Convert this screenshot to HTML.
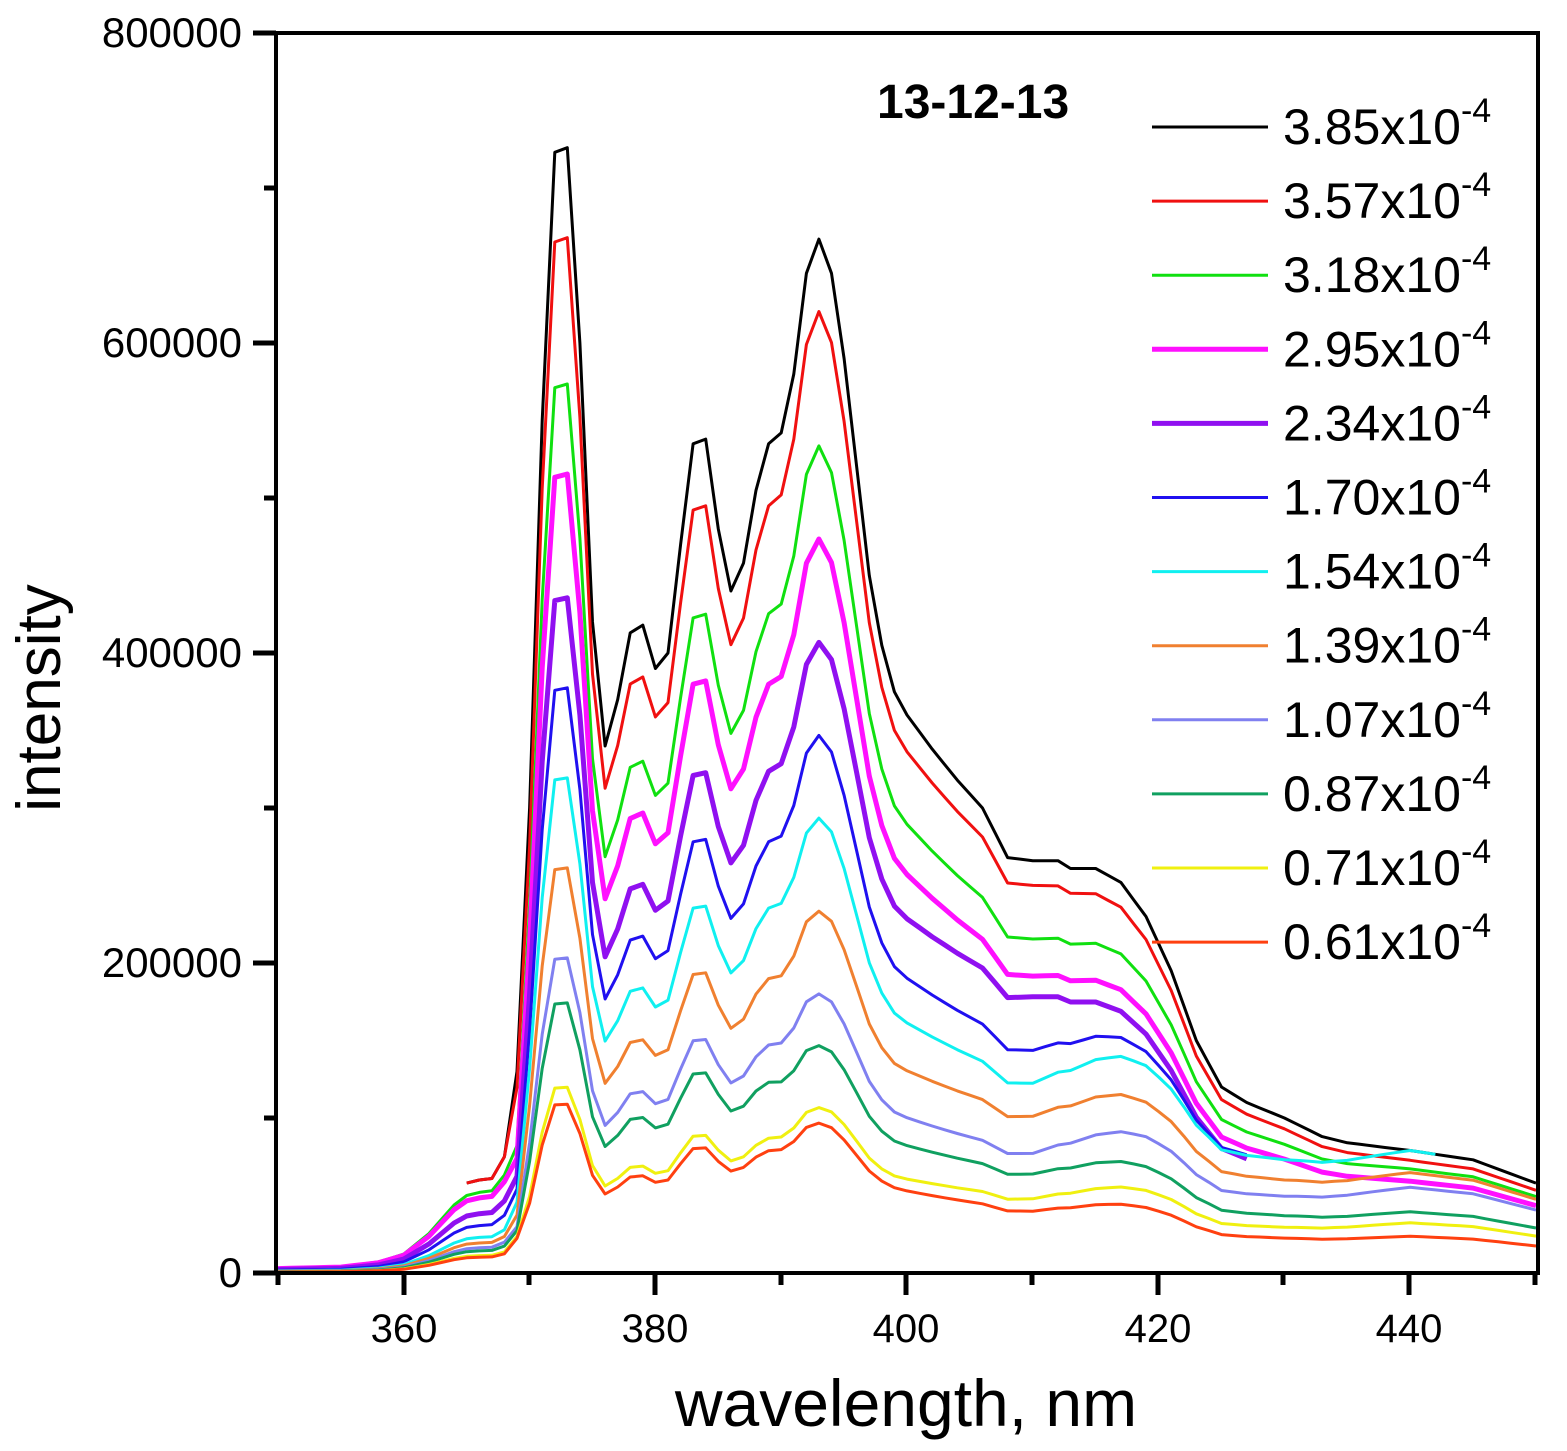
<!DOCTYPE html>
<html><head><meta charset="utf-8"><style>
body{margin:0;background:#fff}
svg{display:block;font-family:"Liberation Sans",Arial,sans-serif}
</style></head><body>
<svg id="s" width="1567" height="1451" viewBox="0 0 1567 1451" xmlns="http://www.w3.org/2000/svg">
<rect width="1567" height="1451" fill="#fff"/>
<g id="curves"></g>
<rect x="276" y="33" width="1262" height="1240" fill="none" stroke="#000" stroke-width="4"/>
<g stroke="#000" stroke-width="5" fill="none">
<line x1="253" y1="1273" x2="276" y2="1273"/><line x1="253" y1="963" x2="276" y2="963"/>
<line x1="253" y1="653" x2="276" y2="653"/><line x1="253" y1="343" x2="276" y2="343"/><line x1="253" y1="33" x2="276" y2="33"/>
<line x1="264" y1="1118" x2="276" y2="1118"/><line x1="264" y1="808" x2="276" y2="808"/><line x1="264" y1="498" x2="276" y2="498"/><line x1="264" y1="188" x2="276" y2="188"/>
<line x1="278" y1="1273" x2="278" y2="1285"/><line x1="404" y1="1273" x2="404" y2="1295"/><line x1="529" y1="1273" x2="529" y2="1285"/>
<line x1="655" y1="1273" x2="655" y2="1295"/><line x1="781" y1="1273" x2="781" y2="1285"/><line x1="906" y1="1273" x2="906" y2="1295"/>
<line x1="1032" y1="1273" x2="1032" y2="1285"/><line x1="1158" y1="1273" x2="1158" y2="1295"/><line x1="1283" y1="1273" x2="1283" y2="1285"/>
<line x1="1409" y1="1273" x2="1409" y2="1295"/><line x1="1535" y1="1273" x2="1535" y2="1285"/>
</g>
<g font-size="42" text-anchor="end">
<text x="242" y="1287">0</text><text x="242" y="977">200000</text><text x="242" y="667">400000</text><text x="242" y="357">600000</text><text x="242" y="47">800000</text>
</g>
<g font-size="40" text-anchor="middle">
<text x="404" y="1342">360</text><text x="655" y="1342">380</text><text x="906" y="1342">400</text><text x="1158" y="1342">420</text><text x="1409" y="1342">440</text>
</g>
<text x="906" y="1426" font-size="66" text-anchor="middle">wavelength, nm</text>
<text transform="translate(60,698) rotate(-90)" font-size="62" text-anchor="middle">intensity</text>
<text x="877" y="118" font-size="48" font-weight="bold">13-12-13</text>
<g id="leg" font-size="50"></g>
</svg>
<script>
const black={350:3,355:4,358:8,360:12,362:25,364:40,365:58,366:60,367:61,368:75,369:130,370:300,371:550,372:723,373:726,374:600,375:420,376:340,377:370,378:413,379:418,380:390,381:400,382:470,383:535,384:538,385:480,386:440,387:458,388:505,389:535,390:542,391:580,392:645,393:667,394:645,395:590,396:520,397:450,398:405,399:375,400:360,402:338,404:318,406:300,408:268,410:266,412:266,413:261,415:261,417:252,419:230,421:195,423:150,425:120,427:110,430:100,433:88,435:84,440:79,445:73,450:58};
const low={350:3,355:4,358:7,360:12,362:25,364:43,365:49,366:51,367:52,368:62};
function interp(tab,w){const ks=Object.keys(tab).map(Number).sort((a,b)=>a-b);
 if(w<=ks[0])return tab[ks[0]];for(let i=0;i<ks.length-1;i++){if(w>=ks[i]&&w<=ks[i+1]){const t=(w-ks[i])/(ks[i+1]-ks[i]);return tab[ks[i]]*(1-t)+tab[ks[i+1]]*t;}}return tab[ks[ks.length-1]];}
const S=[
["3.85","#000",3,1,1,1,1,1,365,450],
["3.57","#f01010",3,0.92,0.93,0.94,0.92,1,365,450],
["3.18","#10e010",3,0.79,0.80,0.81,0.85,1.02,350,450],
["2.95","#ff10ff",5,0.71,0.71,0.72,0.75,0.95,350,450],
["2.34","#9010f0",5,0.60,0.61,0.67,0.67,0.75,350,427],
["1.70","#2010f0",3,0.52,0.52,0.54,0.9,0.6,350,427],
["1.54","#10f0f0",3,0.44,0.44,0.46,1.0,0.45,350,442],
["1.39","#f08030",3,0.36,0.35,0.38,0.82,0.38,350,450],
["1.07","#8080f0",3,0.28,0.27,0.29,0.7,0.32,350,450],
["0.87","#10a060",3,0.24,0.22,0.24,0.5,0.28,350,450],
["0.71","#f0f010",3,0.165,0.16,0.18,0.41,0.22,350,450],
["0.61","#ff4010",3,0.15,0.145,0.15,0.3,0.2,350,450]];
const X=w=>278+(w-350)*12.58, Y=v=>1273-v*1.55;
let g="",lg="";
S.forEach((s,i)=>{const [lab,c,sw,k1,k2,k3,k4,kl,w0,w1]=s;
 const kt={369:k1,385:k1,393:k2,410:k3,430:(k3+k4)/2,440:k4,450:k4};
 let pts=[];
 for(let w=w0;w<=w1;w++){let v;
  if(w<=368)v=(i<2?black[w]||interp(black,w):interp(low,w)*kl);
  else{v=interp(black,w)*interp(kt,w);}
  if(w==369&&i>1)v=Math.max(v*0.8,interp(low,368)*kl+10);
  pts.push(X(w).toFixed(1)+","+Y(v).toFixed(1));}
 g+=`<polyline points="${pts.join(" ")}" fill="none" stroke="${c}" stroke-width="${sw}" stroke-linejoin="round"/>`;
 const y=127+i*74.1;
 lg+=`<line x1="1152" y1="${y}" x2="1268" y2="${y}" stroke="${c}" stroke-width="${sw}"/><text x="1283" y="${y+17}">${lab}x10<tspan font-size="34" dy="-22">-4</tspan></text>`;
});
document.getElementById("curves").innerHTML=g;
document.getElementById("leg").innerHTML=lg;
</script>
</body></html>
